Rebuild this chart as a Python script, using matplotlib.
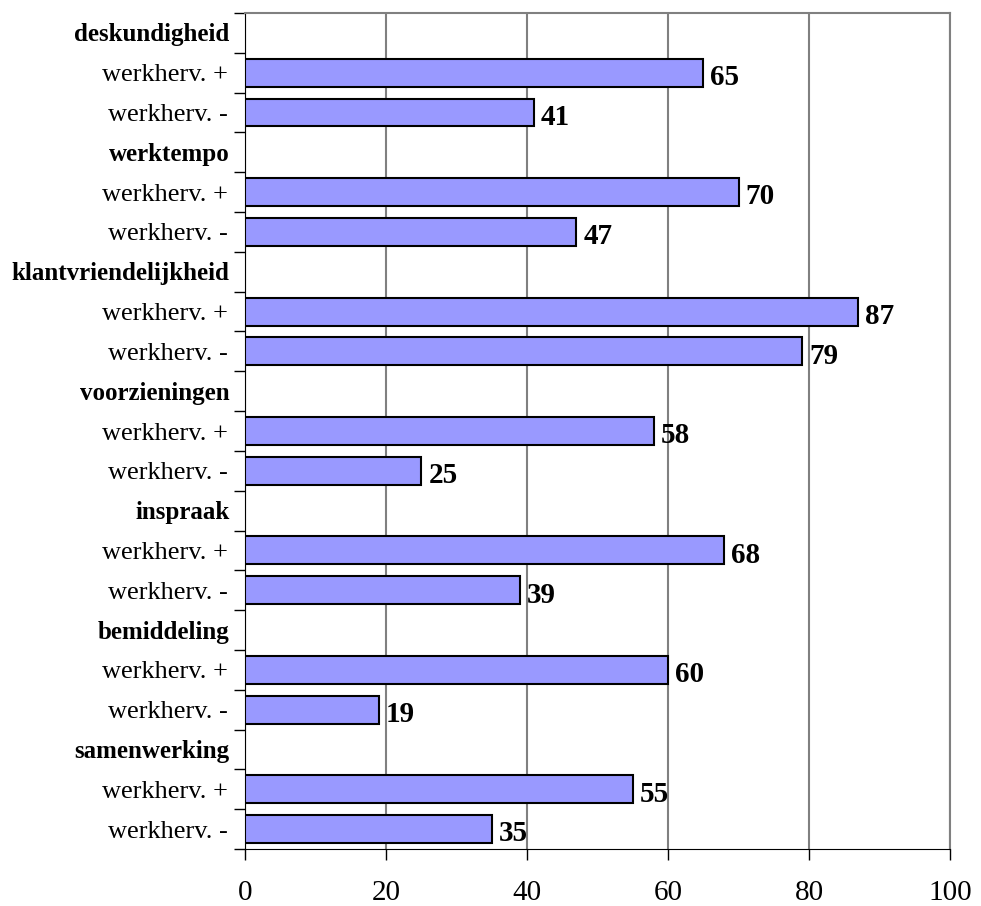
import matplotlib
matplotlib.use("Agg")
import matplotlib.pyplot as plt
import matplotlib.transforms as mtransforms
import numpy as np

categories = ["deskundigheid", "werktempo", "klantvriendelijkheid", "voorzieningen",
              "inspraak", "bemiddeling", "samenwerking"]
plus_values = [65, 70, 87, 58, 68, 60, 55]
minus_values = [41, 47, 79, 25, 39, 19, 35]
sub_labels = ["werkherv. +", "werkherv. -"]
x_ticks = [0, 20, 40, 60, 80, 100]

plt.rcParams['font.family'] = ['Liberation Serif', 'DejaVu Serif']

fig = plt.figure(figsize=(9.81, 9.06), dpi=100)
ax = fig.add_axes([245/981, 1-849/906, (950-245)/981, (849-13)/906])

n_rows = len(categories) * 3
labels, ypos, vals, bold = [], [], [], []
for i, cat in enumerate(categories):
    base = i * 3
    labels += [cat, sub_labels[0], sub_labels[1]]
    bold += [True, False, False]
    ypos += [base + 0.5, base + 1.5, base + 2.5]
    vals += [None, plus_values[i], minus_values[i]]

bar_y = [y for y, v in zip(ypos, vals) if v is not None]
bar_v = [v for v in vals if v is not None]
ax.barh(bar_y, bar_v, height=0.7, color="#9999FF", edgecolor="black", linewidth=1.5, zorder=3)
for y, v in zip(bar_y, bar_v):
    ax.text(v + 1.0, y + 0.12, str(v), va="center", ha="left", fontsize=21,
            fontweight="bold", zorder=4)

ax.set_xlim(0, 100)
ax.set_ylim(n_rows, 0)
ax.set_xticks(x_ticks)
ax.set_xticklabels([str(t) for t in x_ticks], fontsize=21)
ax.tick_params(axis="x", direction="out", length=8, width=1, pad=14)
ax.set_yticks(ypos)
ax.set_yticklabels(["" if b else l for l, b in zip(labels, bold)], fontsize=19)
ax.tick_params(axis="y", which="major", length=0, pad=12)
ax.set_yticks(np.arange(0, n_rows + 1), minor=True)
ax.tick_params(axis="y", which="minor", direction="out", length=8, width=1)

# bold category headers
trans = mtransforms.blended_transform_factory(ax.transAxes, ax.transData)
for l, y, b in zip(labels, ypos, bold):
    if b:
        ax.annotate(l, xy=(0, y + 0.05), xycoords=trans, xytext=(-11, 0),
                    textcoords="offset points", ha="right", va="center",
                    fontsize=18, fontweight="bold", annotation_clip=False)

ax.grid(axis="x", color="#808080", linewidth=1.5, zorder=0)
ax.set_axisbelow(True)
ax.spines["top"].set_color("#808080")
ax.spines["right"].set_color("#808080")
ax.spines["top"].set_linewidth(1.5)
ax.spines["right"].set_linewidth(1.5)
ax.spines["left"].set_color("black")
ax.spines["bottom"].set_color("black")

fig.savefig("out.png", dpi=100)
